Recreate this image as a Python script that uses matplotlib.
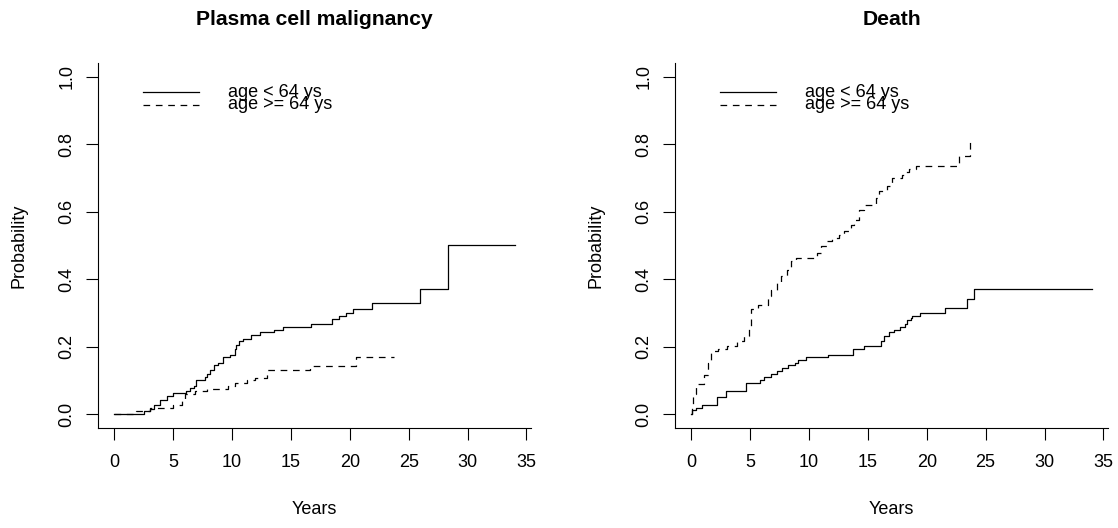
import matplotlib.pyplot as plt

plt.rcParams['font.family'] = ['Liberation Sans', 'DejaVu Sans']
plt.rcParams['lines.scale_dashes'] = False

# cumulative incidence, plasma cell malignancy
pcm_young_t = [0, 2.53, 3.01, 3.35, 3.86, 4.52, 4.99, 6.07, 6.41, 6.75, 6.98, 7.68, 7.88, 8.11,
               8.47, 8.81, 9.24, 9.80, 10.23, 10.37, 10.59, 10.93, 11.65, 12.41, 13.54, 14.33,
               16.74, 18.49, 19.08, 19.71, 20.27, 21.92, 25.99, 28.34]
pcm_young_p = [0, 0.008, 0.015, 0.026, 0.043, 0.053, 0.061, 0.068, 0.076, 0.084, 0.102, 0.109,
               0.120, 0.132, 0.144, 0.152, 0.168, 0.176, 0.193, 0.206, 0.216, 0.223, 0.233,
               0.242, 0.250, 0.259, 0.267, 0.282, 0.290, 0.300, 0.312, 0.329, 0.371, 0.500]
pcm_young_end = 34.06

pcm_old_t = [0, 1.85, 3.06, 4.98, 5.75, 6.03, 6.9, 7.9, 9.7, 10.3, 11.3, 12.0, 13.0, 16.6, 20.5]
pcm_old_p = [0, 0.008, 0.018, 0.028, 0.043, 0.058, 0.067, 0.074, 0.083, 0.092, 0.102, 0.108,
             0.132, 0.141, 0.169]
pcm_old_end = 23.8

# cumulative incidence, death
death_young_t = [0, 0.1, 0.38, 0.95, 2.16, 2.93, 4.63, 5.81, 6.18, 6.75, 7.32, 7.74, 8.22, 8.79,
                 9.07, 9.72, 11.61, 13.77, 14.67, 16.15, 16.37, 16.79, 17.22, 17.70, 18.12,
                 18.35, 18.63, 18.78, 19.42, 21.58, 23.44, 24.0]
death_young_p = [0, 0.011, 0.018, 0.026, 0.050, 0.068, 0.092, 0.102, 0.110, 0.119, 0.127, 0.135,
                 0.144, 0.152, 0.161, 0.169, 0.176, 0.193, 0.201, 0.216, 0.231, 0.242, 0.250,
                 0.258, 0.267, 0.278, 0.285, 0.292, 0.300, 0.315, 0.342, 0.372]
death_young_end = 34.06

death_old_t = [0, 0.05, 0.2, 0.4, 1.09, 1.43, 1.71, 2.28, 3.07, 3.92, 4.48, 4.91, 5.11, 5.67,
               6.52, 6.81, 7.32, 7.60, 8.11, 8.45, 8.87, 10.65, 10.99, 11.56, 11.99, 12.55,
               12.97, 13.54, 13.82, 14.24, 14.67, 15.66, 15.94, 16.66, 17.08, 17.93, 18.06,
               18.49, 19.06, 22.73, 23.65]
death_old_p = [0, 0.03, 0.06, 0.09, 0.117, 0.152, 0.186, 0.193, 0.201, 0.216, 0.231, 0.260,
               0.310, 0.324, 0.349, 0.369, 0.387, 0.408, 0.428, 0.453, 0.463, 0.478, 0.497,
               0.512, 0.522, 0.532, 0.542, 0.559, 0.576, 0.606, 0.621, 0.641, 0.660, 0.675,
               0.700, 0.710, 0.716, 0.726, 0.736, 0.766, 0.818]
death_old_end = 23.75

titles = ["Plasma cell malignancy", "Death"]
legend_labels = ["age < 64 ys", "age >= 64 ys"]
x_ticks = [0, 5, 10, 15, 20, 25, 30, 35]
y_ticks = [0.0, 0.2, 0.4, 0.6, 0.8, 1.0]

DASHED = (0, (4.8, 4.1))

fig = plt.figure(figsize=(11.18, 5.28), dpi=100)
ax1 = fig.add_axes([0.0877, 0.1903, 0.3876, 0.690])
ax2 = fig.add_axes([0.6038, 0.1903, 0.3876, 0.690])

panels = [
    (ax1, titles[0], (pcm_young_t, pcm_young_p, pcm_young_end), (pcm_old_t, pcm_old_p, pcm_old_end)),
    (ax2, titles[1], (death_young_t, death_young_p, death_young_end), (death_old_t, death_old_p, death_old_end)),
]

for ax, title, young, old in panels:
    for (t, p, end), ls in [(young, '-'), (old, DASHED)]:
        ax.step(t + [end], p + [p[-1]], where='post', color='black', lw=0.9, linestyle=ls)

    ax.set_xlim(-1.362, 35.42)
    ax.set_ylim(-0.04, 1.04)
    ax.set_xticks(x_ticks)
    ax.set_yticks(y_ticks)
    ax.set_yticklabels([f"{v:.1f}" for v in y_ticks])
    for s in ['top', 'right']:
        ax.spines[s].set_visible(False)
    for s in ['left', 'bottom']:
        ax.spines[s].set_linewidth(0.8)
    ax.tick_params(length=8.4, width=0.8, labelsize=13, direction='out')
    ax.tick_params(axis='x', pad=10.5)
    ax.tick_params(axis='y', pad=8, labelrotation=90)
    for lab in ax.get_yticklabels():
        lab.set_va('center')

    ax.set_xlabel("Years", fontsize=13, va='center')
    ax.xaxis.set_label_coords(0.5, -0.224)
    ax.set_ylabel("Probability", fontsize=13, va='center')
    ax.yaxis.set_label_coords(-0.182, 0.5)
    ax.text(0.5, 1.12, title, transform=ax.transAxes, ha='center', va='center',
            fontsize=15.2, fontweight='bold')

    # legend drawn by hand, R style with tight rows
    ax.plot([2.44, 7.24], [0.955, 0.955], color='black', lw=0.9)
    ax.plot([2.44, 7.24], [0.916, 0.916], color='black', lw=0.9, linestyle=DASHED)
    ax.text(9.7, 0.941, legend_labels[0], fontsize=13, va='baseline')
    ax.text(9.7, 0.903, legend_labels[1], fontsize=13, va='baseline')

fig.savefig("out.png", dpi=100)
